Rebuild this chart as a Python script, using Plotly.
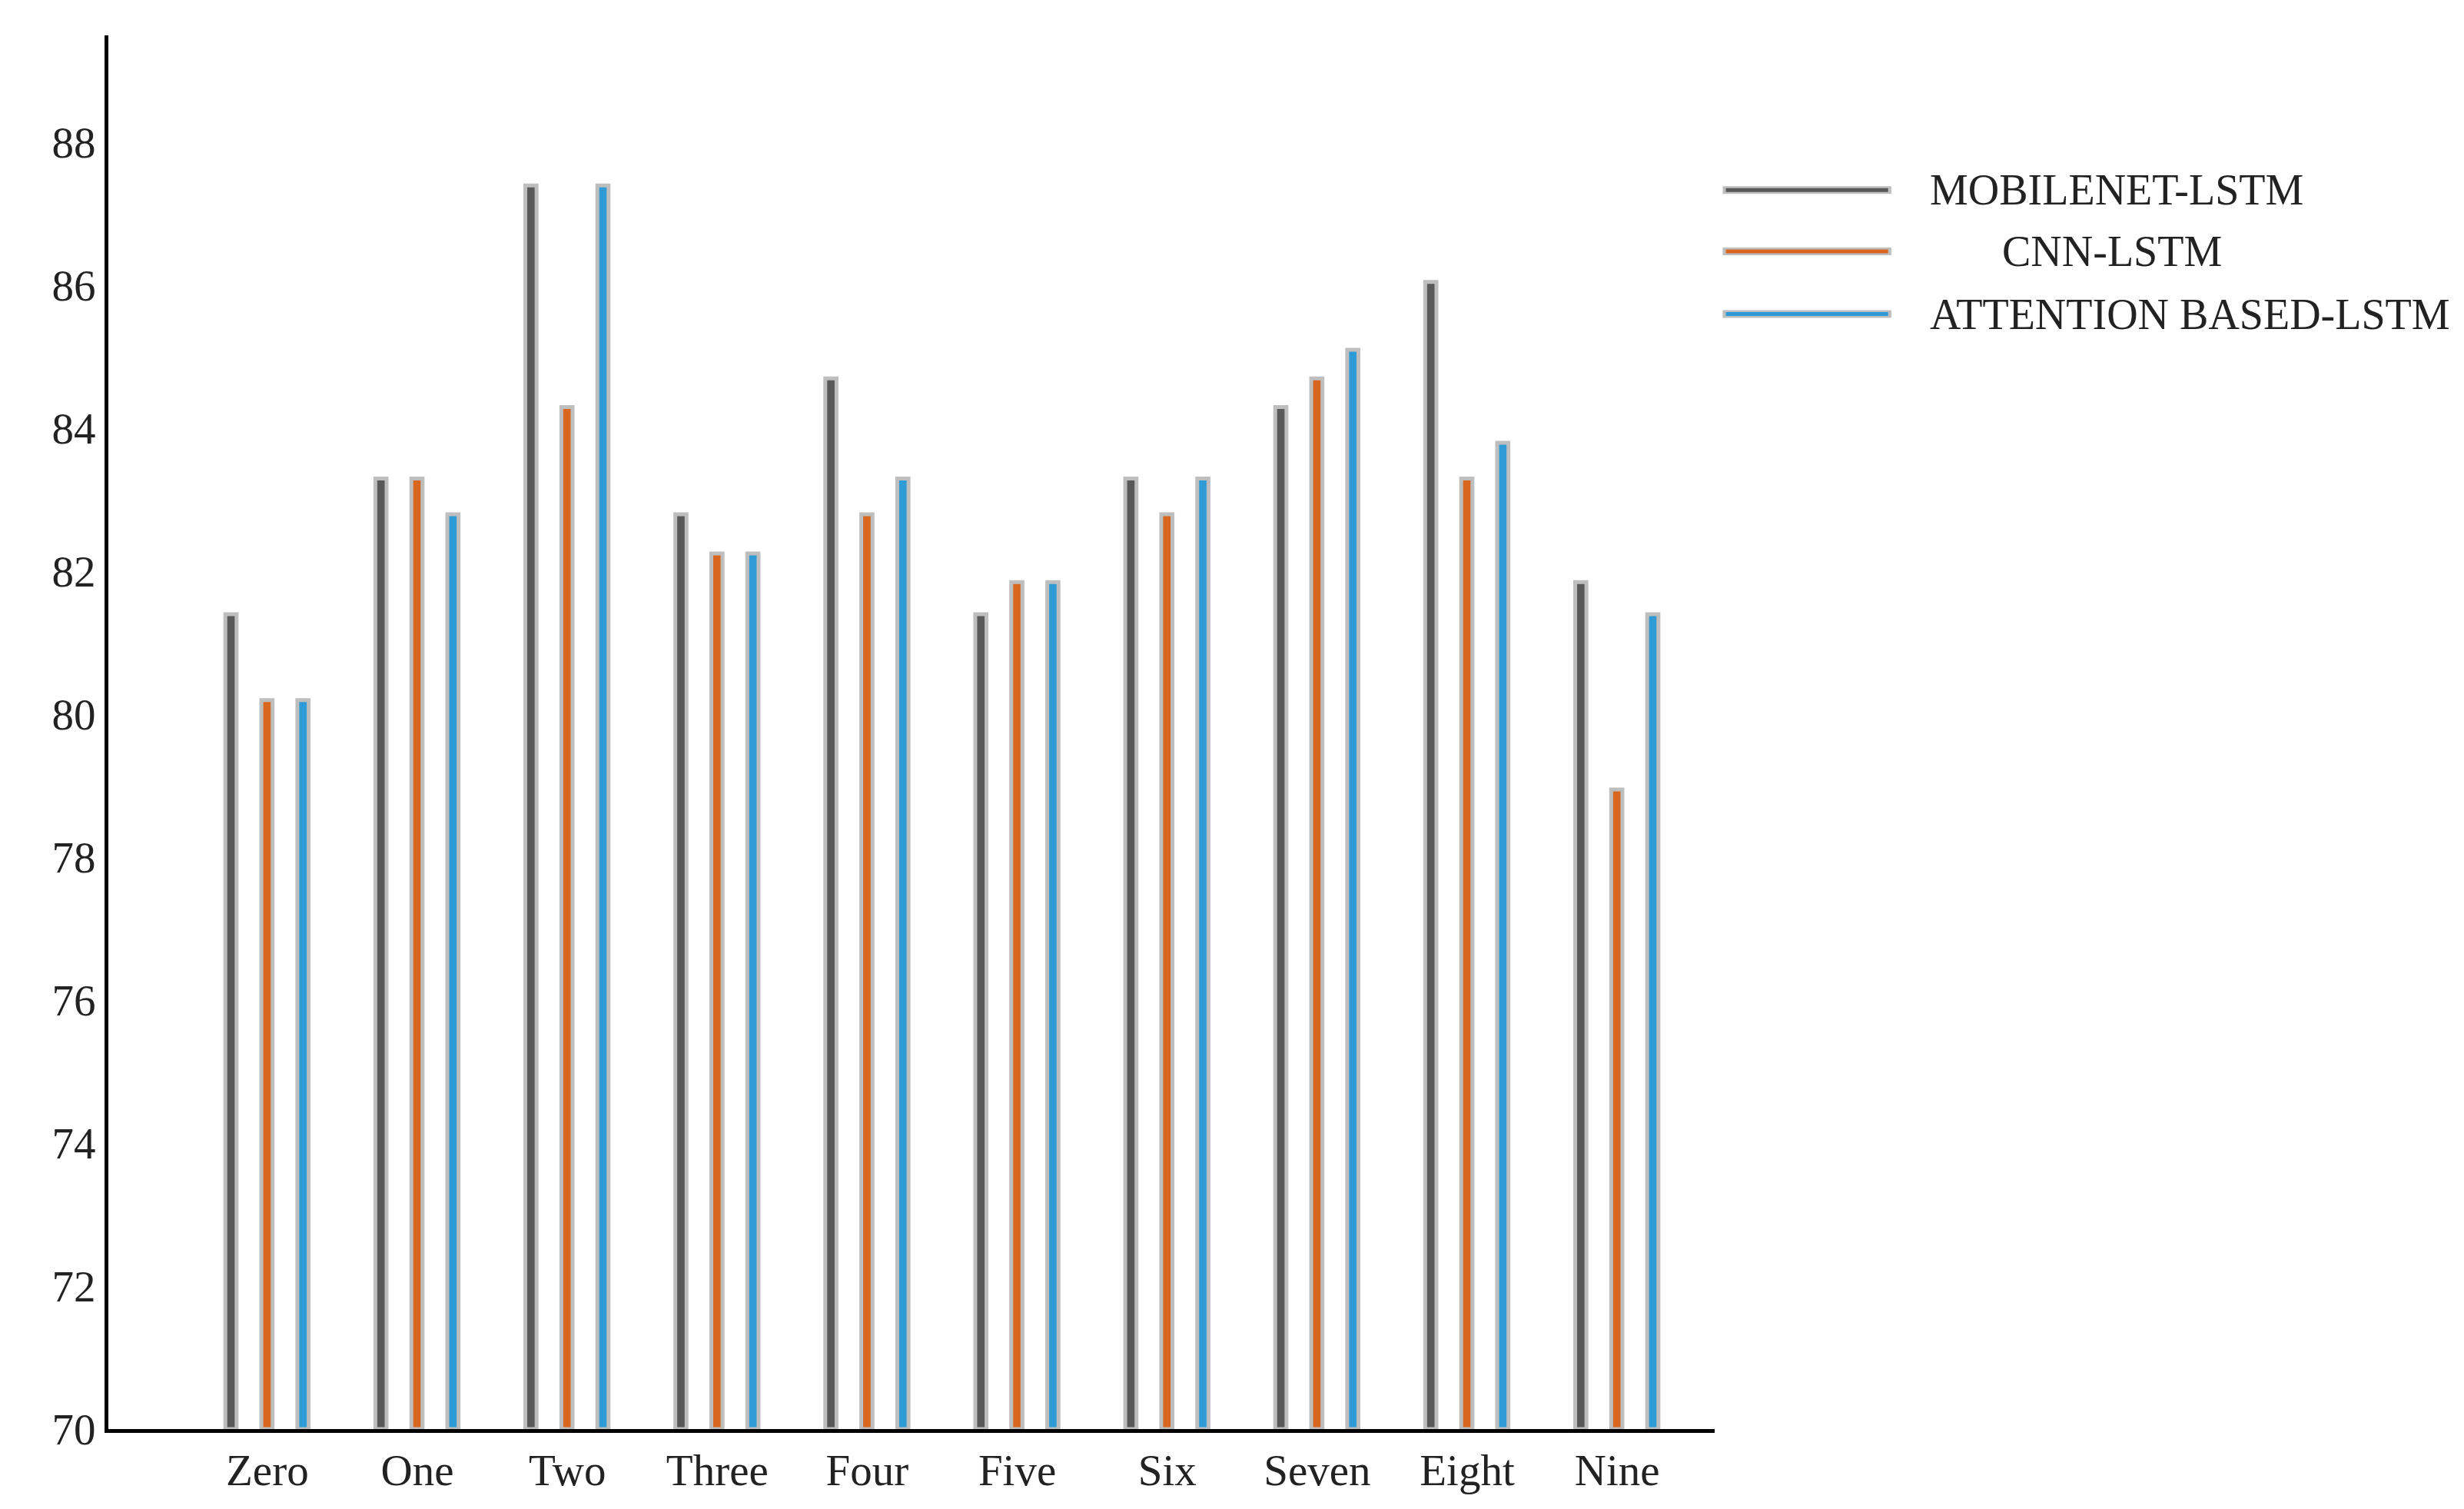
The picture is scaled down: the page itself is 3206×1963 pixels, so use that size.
import plotly.graph_objects as go

categories = ["Zero", "One", "Two", "Three", "Four", "Five", "Six", "Seven", "Eight", "Nine"]
mobilenet = [81.4, 83.3, 87.4, 82.8, 84.7, 81.4, 83.3, 84.3, 86.05, 81.85]
cnn = [80.2, 83.3, 84.3, 82.25, 82.8, 81.85, 82.8, 84.7, 83.3, 78.95]
attention = [80.2, 82.8, 87.4, 82.25, 83.3, 81.85, 83.3, 85.1, 83.8, 81.4]
series_names = ["MOBILENET-LSTM", "CNN-LSTM", "ATTENTION BASED-LSTM"]
y_ticks = [70, 72, 74, 76, 78, 80, 82, 84, 86, 88]

COLORS = ["#595959", "#D9661F", "#2E9BD6"]
OUTLINE = "#BEBEBE"
FONT = "Liberation Serif"

x = list(range(len(categories)))
fig = go.Figure()
for vals, name, color, off in zip([mobilenet, cnn, attention], series_names, COLORS, [-0.28, -0.04, 0.20]):
    fig.add_trace(go.Bar(
        x=x, y=[v - 70 for v in vals], base=70, name=name,
        width=0.075, offset=off,
        marker=dict(color=color, line=dict(color=OUTLINE, width=5)),
        showlegend=False
    ))

# legend drawn by hand (long line samples)
shapes = []
annotations = []
legend_y = [0.889, 0.845, 0.800]
text_x = [1.133, 1.178, 1.133]
for name, color, ly, tx in zip(series_names, COLORS, legend_y, text_x):
    shapes.append(dict(type="line", xref="paper", yref="paper", x0=1.005, x1=1.110, y0=ly, y1=ly,
                       line=dict(color=OUTLINE, width=10)))
    shapes.append(dict(type="line", xref="paper", yref="paper", x0=1.007, x1=1.108, y0=ly, y1=ly,
                       line=dict(color=color, width=5)))
    annotations.append(dict(xref="paper", yref="paper", x=tx, y=ly, text=name, showarrow=False,
                            xanchor="left", yanchor="middle", font=dict(family=FONT, size=56, color="#222")))

fig.update_layout(
    width=3206, height=1963,
    plot_bgcolor="white", paper_bgcolor="white",
    margin=dict(l=133, r=983, t=38, b=112),
    font=dict(family=FONT, size=57, color="#222"),
    shapes=shapes, annotations=annotations,
    xaxis=dict(range=[-1.06, 9.65], tickvals=x, ticktext=categories, showgrid=False,
               showline=True, linecolor="black", linewidth=5, ticks="", zeroline=False),
    yaxis=dict(range=[70, 89.5], tickvals=y_ticks, showgrid=False, showline=True,
               linecolor="black", linewidth=5, ticks="", zeroline=False),
    bargap=0.6
)

fig.write_html("out.html")
